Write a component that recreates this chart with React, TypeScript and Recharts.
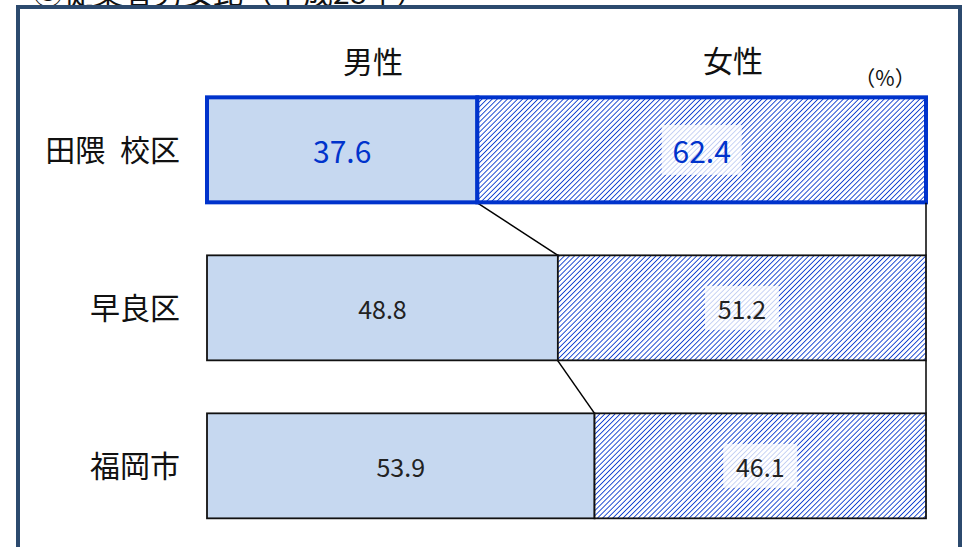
import React from 'react'
import { BarChart, Bar, XAxis, YAxis } from 'recharts'

const categories = ['田隈 校区', '早良区', '福岡市']
const maleValues = [37.6, 48.8, 53.9]
const femaleValues = [62.4, 51.2, 46.1]
const seriesNames = ['男性', '女性']

const data = categories.map((name, i) => ({ name, male: maleValues[i], female: femaleValues[i] }))

const FONT = '"Noto Sans CJK JP", "Noto Sans", sans-serif'
const BLUE = '#0033cc'
const MALE_FILL = '#c6d8f0'
const GAP = 1 / 6 // barCategoryGap fraction on each side

function gapOf(height: number) {
  return (height * 2 * GAP) / (1 - 2 * GAP)
}

function MaleShape(props: any) {
  const { x, y, width, height, index } = props
  const first = index === 0
  let connector = null
  if (index > 0) {
    const prevEnd = x + (width * maleValues[index - 1]) / maleValues[index]
    connector = (
      <line x1={x + width} y1={y} x2={prevEnd} y2={y - gapOf(height)} stroke="#000" strokeWidth={1.5} />
    )
  }
  return (
    <g>
      {connector}
      <rect
        x={x}
        y={y}
        width={width}
        height={height}
        fill={MALE_FILL}
        stroke={first ? BLUE : '#111'}
        strokeWidth={first ? 4 : 1.8}
      />
      <text
        x={x + width / 2}
        y={y + height / 2}
        textAnchor="middle"
        dominantBaseline="central"
        fontFamily={FONT}
        fontSize={first ? 30 : 25}
        fill={first ? BLUE : '#222'}
      >
        {maleValues[index].toFixed(1)}
      </text>
    </g>
  )
}

function FemaleShape(props: any) {
  const { x, y, width, height, index } = props
  const first = index === 0
  const cx = x + width / 2
  const cy = y + height / 2
  const bw = first ? 80 : 74
  const bh = first ? 50 : 44
  return (
    <g>
      {index > 0 && (
        <line x1={x + width} y1={y} x2={x + width} y2={y - gapOf(height)} stroke="#000" strokeWidth={1.5} />
      )}
      <rect
        x={x}
        y={y}
        width={width}
        height={height}
        fill="url(#hatch)"
        stroke={first ? BLUE : '#111'}
        strokeWidth={first ? 4 : 1.8}
      />
      <rect x={cx - bw / 2} y={cy - bh / 2} width={bw} height={bh} fill="#fff" fillOpacity={0.75} />
      <text
        x={cx}
        y={cy}
        textAnchor="middle"
        dominantBaseline="central"
        fontFamily={FONT}
        fontSize={first ? 30 : 25}
        fill={first ? BLUE : '#222'}
      >
        {femaleValues[index].toFixed(1)}
      </text>
    </g>
  )
}

const headStyle: React.CSSProperties = {
  position: 'absolute',
  fontFamily: FONT,
  color: '#111',
  lineHeight: 1,
  whiteSpace: 'nowrap',
  transform: 'translate(-50%, -50%)',
}

export default function App() {
  return (
    <div style={{ position: 'absolute', left: 0, top: 0, width: 966, height: 547, overflow: 'hidden', background: '#fff' }}>
      <div style={{ ...headStyle, left: 33, top: -24, fontSize: 30, transform: 'none' }}>
        ③従業者男女比（平成28年）
      </div>
      <div
        style={{
          position: 'absolute',
          left: 16,
          top: 5,
          width: 946,
          height: 600,
          border: '4px solid #2c4a6e',
          boxSizing: 'border-box',
          background: '#fff',
        }}
      />
      <div style={{ position: 'absolute', left: 0, top: 0 }}>
        <BarChart
          width={966}
          height={547}
          data={data}
          layout="vertical"
          margin={{ top: 71, right: 40, bottom: 2, left: 0 }}
          barCategoryGap="16.67%"
        >
          <defs>
            <pattern id="hatch" patternUnits="userSpaceOnUse" width={3.6} height={3.6} patternTransform="rotate(45)">
              <rect width={3.6} height={3.6} fill="#fff" />
              <line x1={0} y1={0} x2={0} y2={3.6} stroke={BLUE} strokeWidth={1.7} />
            </pattern>
          </defs>
          <XAxis type="number" domain={[0, 100]} hide />
          <YAxis
            type="category"
            dataKey="name"
            width={207}
            axisLine={false}
            tickLine={false}
            tickSize={0}
            tickMargin={27}
            tick={{ fontSize: 30, fill: '#111', fontFamily: FONT, style: { wordSpacing: 8 } }}
          />
          <Bar dataKey="male" name={seriesNames[0]} stackId="a" shape={MaleShape} isAnimationActive={false} />
          <Bar dataKey="female" name={seriesNames[1]} stackId="a" shape={FemaleShape} isAnimationActive={false} />
        </BarChart>
      </div>
      <div style={{ ...headStyle, left: 373, top: 60, fontSize: 30 }}>{seriesNames[0]}</div>
      <div style={{ ...headStyle, left: 733, top: 59, fontSize: 30 }}>{seriesNames[1]}</div>
      <div style={{ ...headStyle, left: 885, top: 77, fontSize: 21 }}>（%）</div>
    </div>
  )
}
